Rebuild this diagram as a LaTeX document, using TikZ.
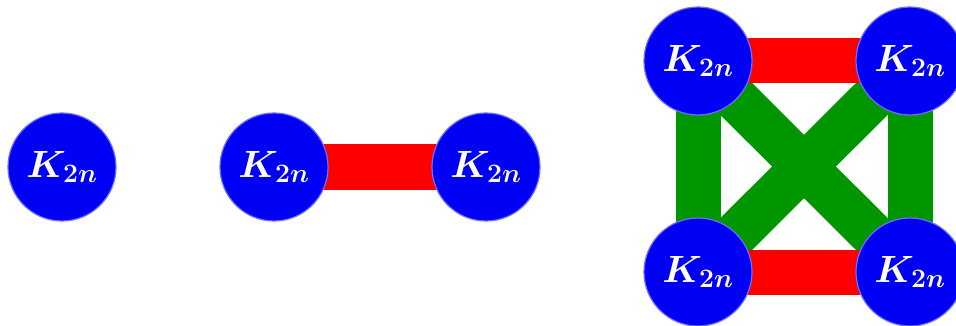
\RequirePackage{fix-cm}
\documentclass[tikz,border=0pt]{standalone}
\usepackage{amsmath}
\definecolor{gblue}{RGB}{0,0,245}
\definecolor{gborder}{RGB}{110,110,250}
\definecolor{ggreen}{RGB}{0,150,0}
\definecolor{gred}{RGB}{255,0,0}
\begin{document}
\begin{tikzpicture}[x=1pt,y=-1pt,
  kn/.style={circle,fill=gblue,draw=gborder,line width=1.2pt,minimum size=108pt,inner sep=0pt,
    text=white,font=\fontsize{38}{44}\selectfont\boldmath},
  rededge/.style={draw=gred,line width=45pt},
  greenedge/.style={draw=ggreen,line width=45pt}]
\useasboundingbox (0,0) rectangle (956,326);
\clip (0,0) rectangle (956,326);
% single node
\node[kn] (a) at (62,167) {$K_{2n}$};
% pair
\coordinate (pb) at (274,167);
\coordinate (pc) at (486,167);
\draw[rededge] (pb) -- (pc);
\node[kn] (b) at (pb) {$K_{2n}$};
\node[kn] (c) at (pc) {$K_{2n}$};
% square
\coordinate (q1) at (698,61);
\coordinate (q2) at (910,61);
\coordinate (q3) at (698,272);
\coordinate (q4) at (910,272);
\draw[greenedge] (q1) -- (q4);
\draw[greenedge] (q2) -- (q3);
\draw[greenedge] (q1) -- (q3);
\draw[greenedge] (q2) -- (q4);
\draw[rededge] (q1) -- (q2);
\draw[rededge] (q3) -- (q4);
\node[kn] (d) at (q1) {$K_{2n}$};
\node[kn] (e) at (q2) {$K_{2n}$};
\node[kn] (f) at (q3) {$K_{2n}$};
\node[kn] (g) at (q4) {$K_{2n}$};
\end{tikzpicture}
\end{document}
